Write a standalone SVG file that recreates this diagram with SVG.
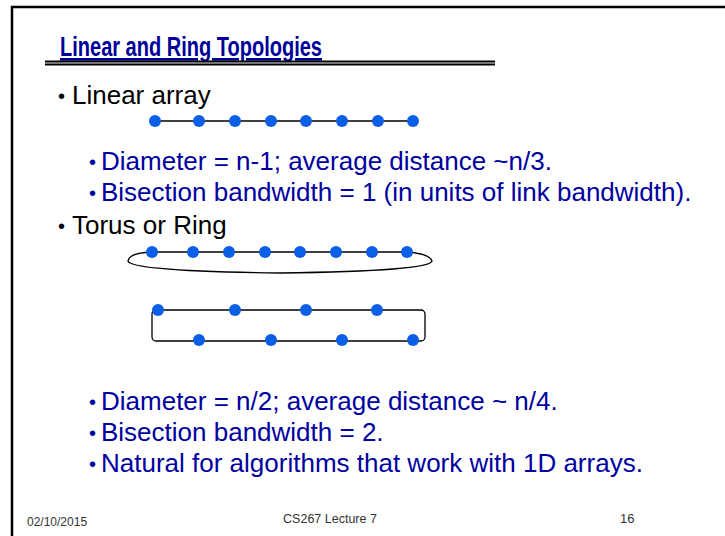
<svg xmlns="http://www.w3.org/2000/svg" width="725" height="536" viewBox="0 0 725 536">
  <style>
    .body { font-family: "Liberation Sans", Arial, sans-serif; font-size: 26px; }
    .main { fill: #000000; }
    .sub { fill: #0000a0; }
    .dot { font-size: 20px; }
    .foot { font-family: "Liberation Sans", Arial, sans-serif; fill: #333333; }
    .wire { fill: none; stroke: #000000; stroke-width: 1.3; }
    .node { fill: #0a5fe6; }
  </style>
  <rect width="725" height="536" fill="#ffffff"/>
  <!-- slide frame (top and left edges) -->
  <path d="M12,536 V7 H725" fill="none" stroke="#000000" stroke-width="2.5"/>

  <!-- title -->
  <text x="60" y="56" font-family="Liberation Sans, Arial, sans-serif" font-weight="bold" font-size="27" fill="#000099" text-decoration="underline" textLength="262" lengthAdjust="spacingAndGlyphs">Linear and Ring Topologies</text>
  <line x1="45" y1="63" x2="495" y2="63" stroke="#000000" stroke-width="5"/>
  <line x1="45" y1="63" x2="495" y2="63" stroke="#9a9a9a" stroke-width="1.4"/>

  <!-- bullet text -->
  <g class="body">
    <g class="main">
      <text class="dot" x="58" y="103">•</text><text x="72" y="104">Linear array</text>
      <text class="dot" x="58" y="233">•</text><text x="72" y="234">Torus or Ring</text>
    </g>
    <g class="sub">
      <text class="dot" x="89" y="169">•</text><text x="101" y="170">Diameter = n-1; average distance ~n/3.</text>
      <text class="dot" x="89" y="200">•</text><text x="101" y="201">Bisection bandwidth = 1 (in units of link bandwidth).</text>
      <text class="dot" x="89" y="409">•</text><text x="101" y="410">Diameter = n/2; average distance ~ n/4.</text>
      <text class="dot" x="89" y="440">•</text><text x="101" y="441">Bisection bandwidth = 2.</text>
      <text class="dot" x="89" y="471">•</text><text x="101" y="472">Natural for algorithms that work with 1D arrays.</text>
    </g>
  </g>

  <!-- connectors -->
  <g id="links">
    <line class="wire" x1="155" y1="121" x2="413" y2="121"/>
    <line class="wire" x1="152" y1="252" x2="407" y2="252"/>
    <path class="wire" d="M152,252 Q129,253 128,261 Q130,271 280,273 Q430,271 432,261 Q430,254 407,252"/>
    <rect class="wire" x="152" y="310" width="273" height="31" rx="4"/>
  </g>

  <!-- linear array nodes -->
  <g id="linear-array" class="node">
    <circle cx="155" cy="121" r="6"/>
    <circle cx="199" cy="121" r="6"/>
    <circle cx="235" cy="121" r="6"/>
    <circle cx="271" cy="121" r="6"/>
    <circle cx="306" cy="121" r="6"/>
    <circle cx="342" cy="121" r="6"/>
    <circle cx="378" cy="121" r="6"/>
    <circle cx="413" cy="121" r="6"/>
  </g>

  <!-- ring nodes -->
  <g id="ring" class="node">
    <circle cx="152" cy="252" r="6"/>
    <circle cx="193" cy="252" r="6"/>
    <circle cx="229" cy="252" r="6"/>
    <circle cx="265" cy="252" r="6"/>
    <circle cx="300" cy="252" r="6"/>
    <circle cx="336" cy="252" r="6"/>
    <circle cx="372" cy="252" r="6"/>
    <circle cx="407" cy="252" r="6"/>
  </g>

  <!-- folded ring nodes -->
  <g id="folded-ring" class="node">
    <circle cx="158" cy="310" r="6"/>
    <circle cx="235" cy="310" r="6"/>
    <circle cx="306" cy="310" r="6"/>
    <circle cx="377" cy="310" r="6"/>
    <circle cx="199" cy="340" r="6"/>
    <circle cx="271" cy="340" r="6"/>
    <circle cx="342" cy="340" r="6"/>
    <circle cx="413" cy="340" r="6"/>
  </g>

  <!-- footer -->
  <text class="foot" x="27" y="526" font-size="12">02/10/2015</text>
  <text class="foot" x="330" y="523" font-size="12.5" text-anchor="middle">CS267 Lecture 7</text>
  <text class="foot" x="620" y="523" font-size="13">16</text>
</svg>
